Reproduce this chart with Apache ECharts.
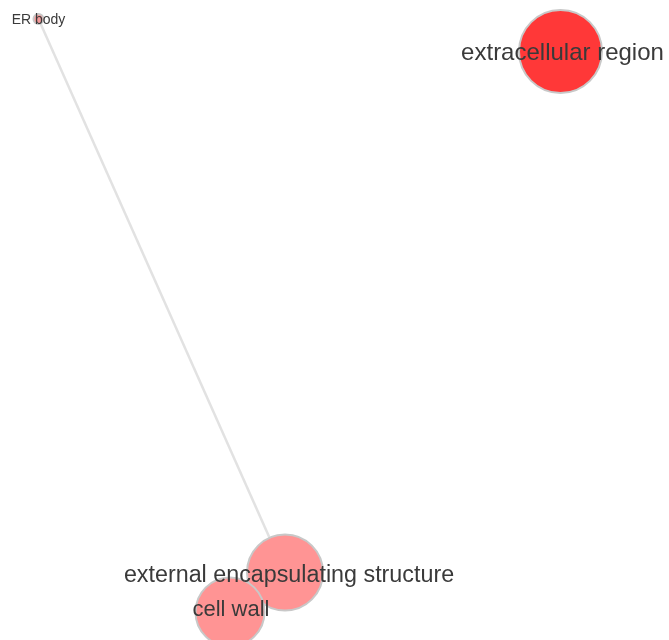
<!DOCTYPE html>
<html>
<head>
<meta charset="utf-8">
<script src="https://cdn.jsdelivr.net/npm/echarts@6/dist/echarts.min.js"></script>
<style>html,body{margin:0;padding:0;background:#fff}#chart{width:669px;height:640px}</style>
</head>
<body>
<div id="chart"></div>
<script>
// Node names and layout coordinates (network layout units)
var nodeNames = ['ER body', 'extracellular region', 'external encapsulating structure', 'cell wall'];
var nodeX = [38.5, 560.5, 285, 230];
var nodeY = [19, 51.5, 572.5, 612];
var nodeSize = [10, 83, 76, 69];
var nodeFont = [14, 24, 23.3, 22];
var nodeColor = ['#f49a9a', '#ff3838', '#ff9494', '#ff9494'];
var edgePairs = [
  ['ER body', 'external encapsulating structure'],
  ['external encapsulating structure', 'cell wall']
];
var labelShift = [[0, 1], [2, 2], [4, 3], [1, -2]];

var chart = echarts.init(document.getElementById('chart'));
var nodes = nodeNames.map(function (n, i) {
  return {
    name: n,
    value: [nodeX[i], nodeY[i]],
    symbolSize: nodeSize[i],
    itemStyle: { color: nodeColor[i] },
    label: { fontSize: nodeFont[i], offset: labelShift[i] }
  };
});
var links = edgePairs.map(function (p) { return { source: p[0], target: p[1] }; });

chart.setOption({
  animation: false,
  grid: { left: 0, right: 0, top: 0, bottom: 0 },
  xAxis: { type: 'value', min: 0, max: 669, show: false },
  yAxis: { type: 'value', min: 0, max: 640, inverse: true, show: false },
  series: [{
    type: 'graph',
    coordinateSystem: 'cartesian2d',
    data: nodes,
    links: links,
    itemStyle: { borderColor: '#c8c8c8', borderWidth: 2 },
    lineStyle: { color: '#e2e2e2', width: 2.5, opacity: 1, curveness: 0 },
    label: {
      show: true,
      position: 'inside',
      color: '#3a3a3a',
      fontFamily: 'Liberation Sans, Arial, sans-serif'
    },
    emphasis: { disabled: true }
  }]
});
</script>
</body>
</html>
